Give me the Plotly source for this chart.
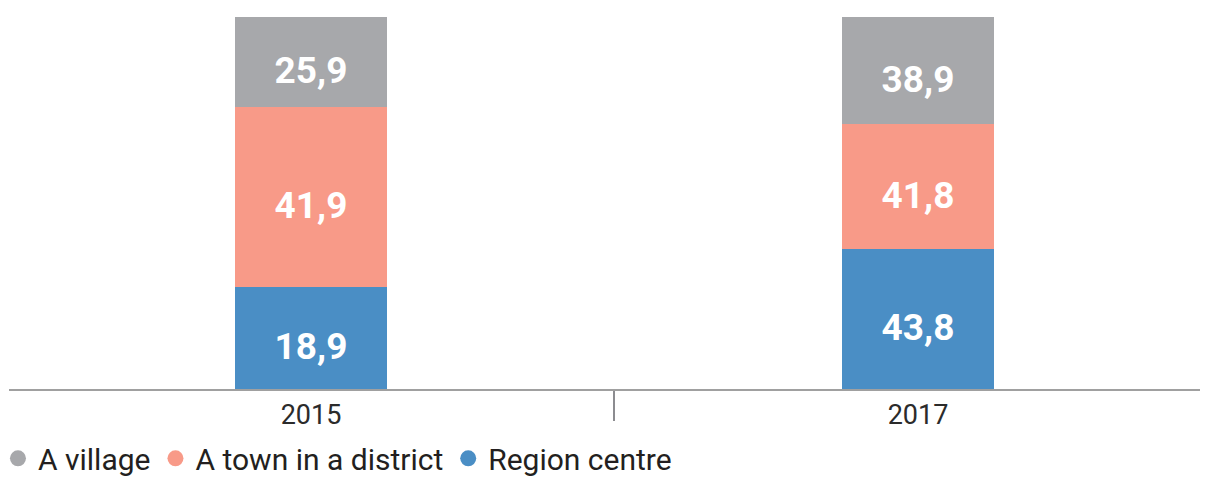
import plotly.graph_objects as go

# Categories
years = ["2015", "2017"]

# Values printed on the bars
region_centre = [18.9, 43.8]
town_in_district = [41.9, 41.8]
village = [25.9, 38.9]

# Segment heights as drawn in the picture (share of full bar height, %)
region_centre_height = [27.4, 37.6]
town_in_district_height = [48.4, 33.6]
village_height = [24.2, 28.8]

series_names = ["Region centre", "A town in a district", "A village"]
colors = {"Region centre": "#4a8ec5", "A town in a district": "#f89a88", "A village": "#a7a8ab"}

heights = {
    "Region centre": region_centre_height,
    "A town in a district": town_in_district_height,
    "A village": village_height,
}
labels = {
    "Region centre": region_centre,
    "A town in a district": town_in_district,
    "A village": village,
}

PLOT_H_PX = 372          # plot area height in px
LABEL_DROP_PX = 12       # labels sit slightly below segment centre


def fmt(v):
    return f"{v:.1f}".replace(".", ",")


fig = go.Figure()

for name in series_names:
    fig.add_trace(go.Bar(
        x=years, y=heights[name], name=name,
        marker=dict(color=colors[name], line=dict(width=0)),
        width=0.25, showlegend=False, hoverinfo="skip",
    ))

# value labels as a text trace
lab_x, lab_y, lab_t = [], [], []
for i, yr in enumerate(years):
    base = 0.0
    for name in series_names:
        h = heights[name][i]
        lab_x.append(yr)
        lab_y.append(base + h / 2 - LABEL_DROP_PX / PLOT_H_PX * 100)
        lab_t.append("<b>" + fmt(labels[name][i]) + "</b>")
        base += h

fig.add_trace(go.Scatter(
    x=lab_x, y=lab_y, text=lab_t, mode="text", textposition="middle center",
    textfont=dict(family="Roboto", size=37, color="#ffffff"),
    showlegend=False, hoverinfo="skip", cliponaxis=False,
))

# legend entries (circle markers), order: village, town, region
for name in ["A village", "A town in a district", "Region centre"]:
    fig.add_trace(go.Scatter(
        x=[years[0]], y=[None], mode="markers", name=name,
        marker=dict(color=colors[name], size=20, symbol="circle"),
        showlegend=True, hoverinfo="skip",
    ))

fig.update_layout(
    width=1200, height=470,
    margin=dict(l=1, r=0, t=9, b=89, pad=0, autoexpand=False),
    paper_bgcolor="white", plot_bgcolor="white",
    barmode="stack", bargap=0,
    showlegend=True,
    legend=dict(
        orientation="h", x=-0.0092, xanchor="left", y=-0.1165, yanchor="top",
        font=dict(family="Roboto", size=30, color="#231f20"),
        itemsizing="trace", traceorder="normal",
        bgcolor="rgba(0,0,0,0)", borderwidth=0,
    ),
    xaxis=dict(
        type="category", range=[-0.4975, 1.4778],
        showline=True, linecolor="#a0a0a0", linewidth=2,
        ticks="outside", tickson="boundaries", ticklen=30, tickwidth=1.5,
        tickcolor="#8c8c90", ticklabelstandoff=1,
        tickfont=dict(family="Roboto", size=27, color="#2b2b2b"),
        showgrid=False, zeroline=False, fixedrange=True,
    ),
    yaxis=dict(
        range=[0, 100], showticklabels=False, showline=False, ticks="",
        showgrid=False, zeroline=False, fixedrange=True,
    ),
)

fig.write_html("out.html")
